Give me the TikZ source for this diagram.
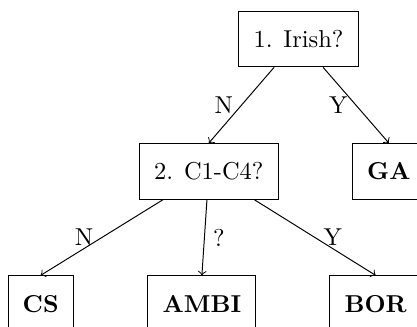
\documentclass[tikz,border=0pt]{standalone}
\usepackage{amsmath,amssymb}
\usepackage{xcolor}
\usepackage{tikz}
\usetikzlibrary{positioning}

\begin{document}
\begin{tikzpicture}[
  node distance=1.09cm,
  qbox/.style={rectangle, draw, minimum height=0.8cm, inner xsep=6pt},
  leaf/.style={qbox, font=\bfseries},
  arr/.style={->}
]
  \useasboundingbox (0,0) rectangle (6.0,-4.705);
  \clip (0,0) rectangle (6.0,-4.705);
  \node[qbox] at (4.295,-0.561) (irish) {1. Irish?};
  \node[qbox, below=of irish, xshift=-1.29cm] (cfour) {2. C1-C4?};
  \node[leaf, below=of irish, xshift=1.30cm] (ga) {GA};
  \node[leaf, below=of cfour, xshift=-2.42cm] (cs) {CS};
  \node[leaf, below=of cfour, xshift=-0.10cm] (ambi) {AMBI};
  \node[leaf, below=of cfour, xshift=2.40cm] (bor) {BOR};
  \draw[arr] (irish) -- node[left] {N} (cfour.north);
  \draw[arr] (irish) -- node[left] {Y} (ga.north);
  \draw[arr] (cfour) -- node[left] {N} (cs.north);
  \draw[arr] (cfour) -- node[right] {?} (ambi.north);
  \draw[arr] (cfour) -- node[right] {Y} (bor.north);
\end{tikzpicture}
\end{document}
